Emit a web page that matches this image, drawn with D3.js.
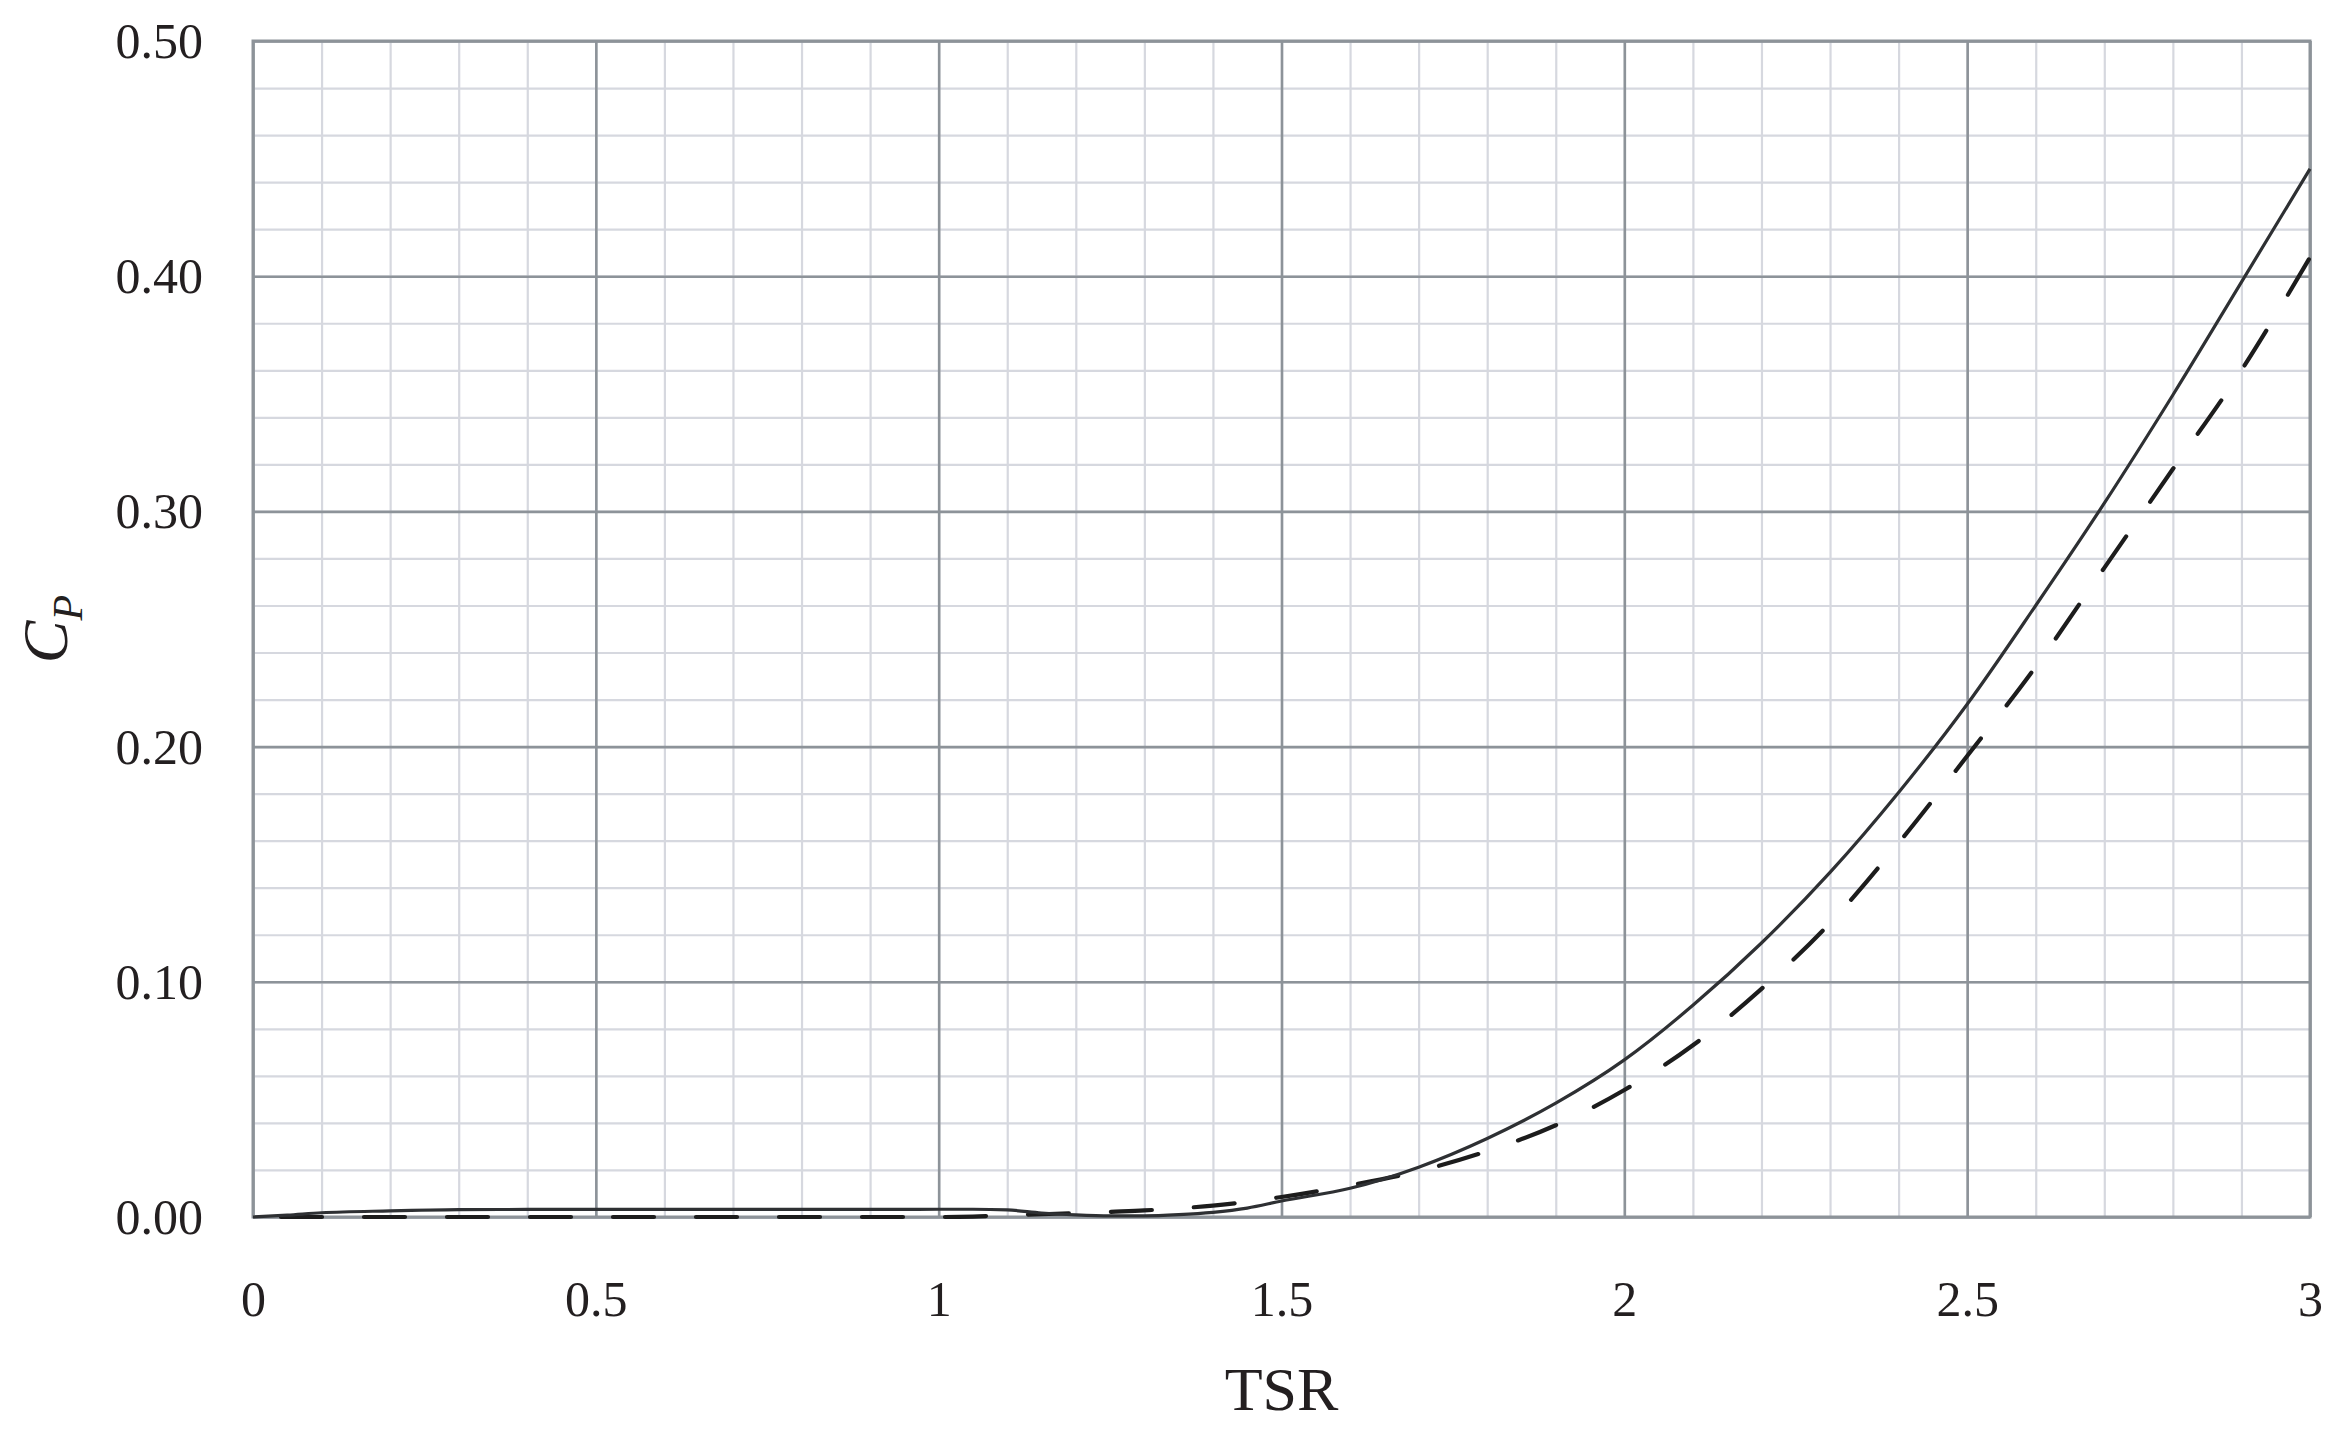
<!DOCTYPE html>
<html>
<head>
<meta charset="utf-8">
<script src="https://cdn.jsdelivr.net/npm/d3@7"></script>
<style>
  html, body { margin: 0; padding: 0; background: #ffffff; }
  svg { display: block; }
  text { font-family: "Liberation Serif", "Times New Roman", serif; fill: #231f20; }
</style>
</head>
<body>
<svg id="chart" width="2339" height="1440"></svg>
<script>
// ---- data ----
const tsr = [0, 0.05, 0.1, 0.2, 0.3, 0.4, 0.5, 0.6, 0.7, 0.8, 0.9, 1.0, 1.05, 1.1, 1.15, 1.2, 1.25, 1.3, 1.35, 1.4, 1.45, 1.5,
             1.6, 1.7, 1.8, 1.9, 2.0, 2.1, 2.2, 2.3, 2.4, 2.5, 2.6, 2.7, 2.8, 2.9, 3.0];
const cpSolid = [0, 0.0008, 0.0018, 0.0026, 0.0031, 0.0032, 0.0032, 0.0032, 0.0032, 0.0032, 0.0032, 0.0033, 0.0033, 0.003, 0.0017, 0.0009, 0.0005, 0.0005, 0.001, 0.002, 0.0038, 0.0068,
                 0.0122, 0.0212, 0.0334, 0.0484, 0.0668, 0.0900, 0.1165, 0.1465, 0.1805, 0.2180, 0.2600, 0.3035, 0.3495, 0.3975, 0.4456];
const cpDashed = [0, 0, 0, 0, 0, 0, 0, 0, 0, 0, 0, 0, 0.0002, 0.0008, 0.0012, 0.0016, 0.0022, 0.0028, 0.0037, 0.0048, 0.0065, 0.0085,
                  0.0135, 0.0195, 0.028, 0.039, 0.054, 0.073, 0.097, 0.125, 0.159, 0.196, 0.234, 0.276, 0.318, 0.360, 0.408];
const xMajorTicks = [0, 0.5, 1, 1.5, 2, 2.5, 3];
const xTickLabels = ["0", "0.5", "1", "1.5", "2", "2.5", "3"];
const yMajorTicks = [0, 0.1, 0.2, 0.3, 0.4, 0.5];
const yTickLabels = ["0.00", "0.10", "0.20", "0.30", "0.40", "0.50"];
const xMinorTicks = d3.range(0, 31).map(i => i / 10);
const yMinorTicks = d3.range(0, 26).map(i => i / 50);

// ---- layout ----
const plot = { left: 253, top: 41, right: 2310, bottom: 1217 };
const svg = d3.select("#chart");
const x = d3.scaleLinear().domain([0, 3]).range([plot.left, plot.right]);
const y = d3.scaleLinear().domain([0, 0.5]).range([plot.bottom, plot.top]);
const H = plot.bottom - plot.top, W = plot.right - plot.left;

// minor grid
svg.append("g").attr("transform", `translate(0,${plot.bottom})`)
  .call(d3.axisBottom(x).tickValues(xMinorTicks).tickSize(-H).tickFormat(""))
  .call(g => g.select(".domain").remove())
  .call(g => g.selectAll("line").attr("stroke", "#d6d8df").attr("stroke-width", 2.2));
svg.append("g").attr("transform", `translate(${plot.left},0)`)
  .call(d3.axisLeft(y).tickValues(yMinorTicks).tickSize(-W).tickFormat(""))
  .call(g => g.select(".domain").remove())
  .call(g => g.selectAll("line").attr("stroke", "#d6d8df").attr("stroke-width", 2.2));

// major grid
svg.append("g").attr("transform", `translate(0,${plot.bottom})`)
  .call(d3.axisBottom(x).tickValues(xMajorTicks).tickSize(-H).tickFormat(""))
  .call(g => g.select(".domain").remove())
  .call(g => g.selectAll("line").attr("stroke", "#8d9399").attr("stroke-width", 2.6));
svg.append("g").attr("transform", `translate(${plot.left},0)`)
  .call(d3.axisLeft(y).tickValues(yMajorTicks).tickSize(-W).tickFormat(""))
  .call(g => g.select(".domain").remove())
  .call(g => g.selectAll("line").attr("stroke", "#8d9399").attr("stroke-width", 2.6));

// frame
svg.append("rect")
  .attr("x", x(0)).attr("y", y(0.5))
  .attr("width", x(3) - x(0)).attr("height", y(0) - y(0.5))
  .attr("fill", "none").attr("stroke", "#8d9399").attr("stroke-width", 3);

// tick labels
svg.append("g").attr("transform", `translate(0,${plot.bottom})`)
  .call(d3.axisBottom(x).tickValues(xMajorTicks).tickSize(0)
        .tickFormat((d, i) => xTickLabels[i]))
  .call(g => g.select(".domain").remove())
  .call(g => g.selectAll("text").attr("y", 99).attr("dy", 0)
        .attr("font-size", 50).attr("fill", "#231f20")
        .attr("font-family", "Liberation Serif, serif"));
svg.append("g").attr("transform", `translate(${plot.left},0)`)
  .call(d3.axisLeft(y).tickValues(yMajorTicks).tickSize(0).tickPadding(50)
        .tickFormat((d, i) => yTickLabels[i]))
  .call(g => g.select(".domain").remove())
  .call(g => g.selectAll("text").attr("dy", "0.33em")
        .attr("font-size", 50).attr("fill", "#231f20")
        .attr("font-family", "Liberation Serif, serif"));

// axis titles
svg.append("text")
  .attr("x", x(1.5)).attr("y", 1410)
  .attr("text-anchor", "middle")
  .attr("font-size", 62)
  .text("TSR");

const yt = svg.append("text")
  .attr("transform", `translate(67,${(plot.top + plot.bottom) / 2}) rotate(-90)`)
  .attr("text-anchor", "middle")
  .attr("font-size", 64)
  .attr("font-style", "italic");
yt.append("tspan").text("C");
yt.append("tspan").attr("font-size", 42).attr("dy", 15).text("P");

// curves
const line = d3.line().curve(d3.curveMonotoneX);
const solidPts = tsr.map((t, i) => [x(t), y(cpSolid[i])]);
const dashedPts = tsr.map((t, i) => [x(t), y(cpDashed[i])]);

svg.append("path")
  .attr("d", line(dashedPts))
  .attr("fill", "none")
  .attr("stroke", "#1c1c1c")
  .attr("stroke-width", 4.2)
  .attr("stroke-linecap", "round")
  .attr("stroke-dasharray", "41 42")
  .attr("stroke-dashoffset", 55);

svg.append("path")
  .attr("d", line(solidPts))
  .attr("fill", "none")
  .attr("stroke", "#2e3033")
  .attr("stroke-width", 3.2);
</script>
</body>
</html>
